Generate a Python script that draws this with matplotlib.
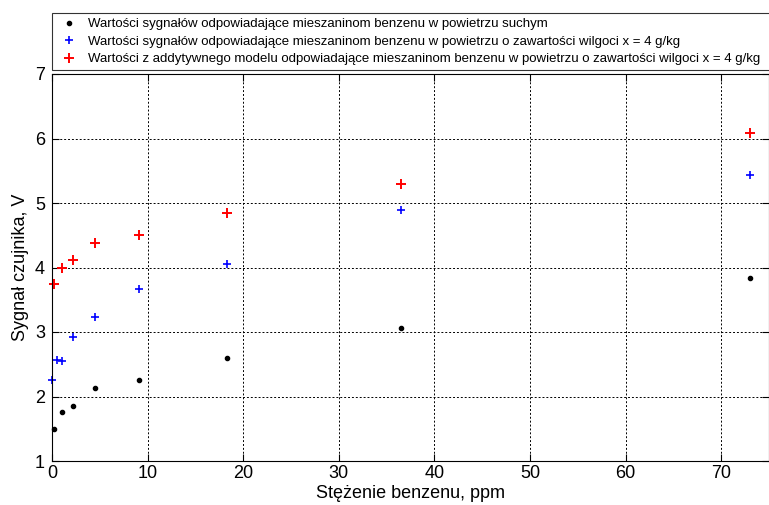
import matplotlib
matplotlib.use("Agg")
import matplotlib.pyplot as plt

plt.rcParams['font.family'] = ['Liberation Sans', 'DejaVu Sans']

# Data
x_dry = [0.2, 1.0, 2.2, 4.5, 9.1, 18.3, 36.5, 73.0]
y_dry = [1.49, 1.76, 1.86, 2.13, 2.25, 2.60, 3.06, 3.83]

x_wet = [0.0, 0.5, 1.0, 2.2, 4.5, 9.1, 18.3, 36.5, 73.0]
y_wet = [2.25, 2.56, 2.55, 2.93, 3.24, 3.66, 4.06, 4.89, 5.43]

x_model = [0.2, 1.0, 2.2, 4.5, 9.1, 18.3, 36.5, 73.0]
y_model = [3.74, 4.00, 4.12, 4.38, 4.51, 4.85, 5.30, 6.09]

labels = [
    "Wartości sygnałów odpowiadające mieszaninom benzenu w powietrzu suchym",
    "Wartości sygnałów odpowiadające mieszaninom benzenu w powietrzu o zawartości wilgoci x = 4 g/kg",
    "Wartości z addytywnego modelu odpowiadające mieszaninom benzenu w powietrzu o zawartości wilgoci x = 4 g/kg",
]
x_ticks = [0, 10, 20, 30, 40, 50, 60, 70]
y_ticks = [1, 2, 3, 4, 5, 6, 7]

fig = plt.figure(figsize=(7.69, 5.05), dpi=100)
ax = fig.add_axes([52/769, 1-461/505, 1-52/769, (461-74)/505])

h1, = ax.plot(x_dry, y_dry, linestyle='none', marker='.', color='black',
              markersize=6, clip_on=False)
h2, = ax.plot(x_wet, y_wet, linestyle='none', marker='+', color='blue',
              markersize=5.5, markeredgewidth=1.2, clip_on=False)
h3, = ax.plot(x_model, y_model, linestyle='none', marker='+', color='red',
              markersize=7.5, markeredgewidth=1.4, clip_on=False)

ax.set_xlim(0, 75)
ax.set_ylim(1, 7)
ax.set_xticks(x_ticks)
ax.set_yticks(y_ticks)
ax.grid(True, linestyle=(0, (2, 2)), color='black', linewidth=0.7)
ax.tick_params(direction='in', top=True, right=True, labelsize=13, length=5)
ax.tick_params(axis='x', pad=3)
ax.tick_params(axis='y', pad=5)
for s in ax.spines.values():
    s.set_linewidth(0.8)
ax.set_xlabel("Stężenie benzenu, ppm", fontsize=13, labelpad=2)
ax.set_ylabel("Sygnał czujnika, V", fontsize=13, labelpad=4)

leg = fig.legend([h1, h2, h3], labels, loc='upper left',
                 bbox_to_anchor=(52/769, 1-13/505, 1-52/769 + 0.02, 0.0),
                 mode='expand', fontsize=9.5,
                 frameon=True, fancybox=False, edgecolor='black',
                 handlelength=1.8, handletextpad=0.55, borderpad=0.38,
                 labelspacing=0.4, borderaxespad=0)
leg.get_frame().set_linewidth(0.8)

fig.savefig("out.png", dpi=100)
